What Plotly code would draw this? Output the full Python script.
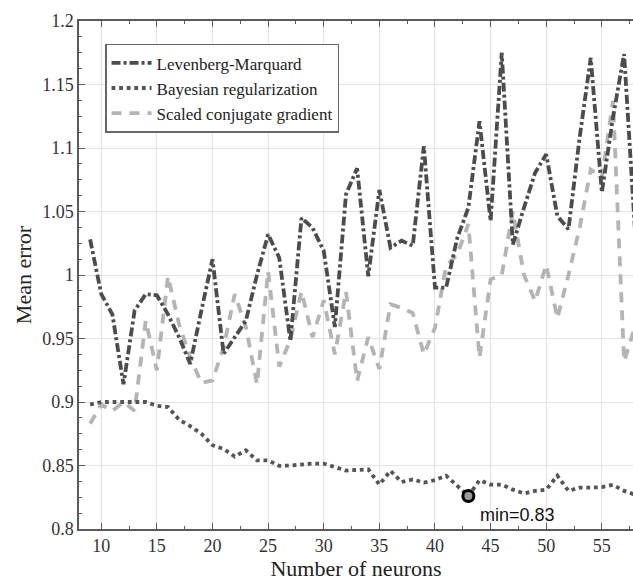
import plotly.graph_objects as go

neurons = list(range(9, 59))

lm = [1.028, 0.985, 0.969, 0.914, 0.972, 0.985, 0.984, 0.969, 0.951, 0.930,
      0.972, 1.0125, 0.938, 0.951, 0.964, 1.000, 1.032, 1.0136, 0.948, 1.045,
      1.037, 1.019, 0.959, 1.0635, 1.084, 0.999, 1.067, 1.0215, 1.027, 1.023,
      1.1015, 0.990, 0.990, 1.029, 1.053, 1.121, 1.0425, 1.175, 1.024, 1.053,
      1.0805, 1.095, 1.0465, 1.036, 1.108, 1.171, 1.065, 1.124, 1.174, 1.032]

br = [0.898, 0.900, 0.900, 0.900, 0.900, 0.900, 0.897, 0.896, 0.886, 0.881,
      0.875, 0.866, 0.863, 0.857, 0.862, 0.854, 0.854, 0.8497, 0.850, 0.851,
      0.8515, 0.8515, 0.8485, 0.846, 0.8465, 0.847, 0.835, 0.8458, 0.837, 0.839,
      0.8366, 0.8384, 0.842, 0.834, 0.826, 0.8384, 0.835, 0.835, 0.831, 0.828,
      0.830, 0.831, 0.842, 0.830, 0.8326, 0.8326, 0.833, 0.8347, 0.830, 0.827]

scg = [0.883, 0.898, 0.893, 0.900, 0.893, 0.964, 0.925, 0.999, 0.961, 0.935,
       0.915, 0.917, 0.943, 0.985, 0.959, 0.914, 1.003, 0.928, 0.949, 0.987,
       0.951, 0.980, 0.9376, 0.987, 0.9166, 0.951, 0.926, 0.977, 0.974, 0.970,
       0.9376, 0.9585, 1.007, 1.016, 1.040, 0.935, 0.9966, 1.000, 1.050, 1.000,
       0.9795, 1.008, 0.966, 1.000, 1.037, 1.083, 1.0766, 1.137, 0.932, 0.960]

min_x = [43]
min_y = [0.826]
min_label = "min=0.83"

xtick_vals = [10, 15, 20, 25, 30, 35, 40, 45, 50, 55]
ytick_vals = [0.8, 0.85, 0.9, 0.95, 1.0, 1.05, 1.1, 1.15, 1.2]
ytick_text = ["0.8", "0.85", "0.9", "0.95", "1", "1.05", "1.1", "1.15", "1.2"]

serif = "Liberation Serif, Times New Roman, serif"

fig = go.Figure()
fig.add_trace(go.Scatter(x=neurons, y=scg, mode="lines", name="Scaled conjugate gradient",
                         line=dict(color="#b4b4b4", width=3.8, dash="10px,8px"), legendrank=3))
fig.add_trace(go.Scatter(x=neurons, y=br, mode="lines", name="Bayesian regularization",
                         line=dict(color="#555555", width=3.8, dash="dot"), legendrank=2))
fig.add_trace(go.Scatter(x=neurons, y=lm, mode="lines", name="Levenberg-Marquard",
                         line=dict(color="#4c4c4c", width=3.8, dash="9px,3px,3px,3px"), legendrank=1))
fig.add_trace(go.Scatter(x=min_x, y=min_y, mode="markers", showlegend=False,
                         marker=dict(size=11, color="#9a9a9a", line=dict(color="black", width=3))))

fig.add_annotation(x=47.4, y=0.811, text=min_label, showarrow=False,
                   font=dict(family="Liberation Sans, Arial, sans-serif", size=18, color="#111111"))

axis_common = dict(showline=True, linecolor="#5a5a5a", linewidth=1.5,
                   showgrid=True, gridcolor="#e3e3e3", gridwidth=1,
                   ticks="inside", ticklen=6, tickcolor="#5a5a5a", tickwidth=1.2,
                   zeroline=False,
                   tickfont=dict(family=serif, size=18, color="#333333"))

fig.update_xaxes(range=[8, 57.8], tickvals=xtick_vals, mirror="allticks",
                 minor=dict(dtick=2.5, tick0=0, ticks="inside", ticklen=3, tickcolor="#5a5a5a", showgrid=False),
                 title=dict(text="Number of neurons", font=dict(family=serif, size=22, color="#222222"), standoff=2),
                 **axis_common)
fig.update_yaxes(range=[0.8, 1.2], tickvals=ytick_vals, ticktext=ytick_text,
                 minor=dict(dtick=0.0125, tick0=0.8, ticks="inside", ticklen=3, tickcolor="#5a5a5a", showgrid=False),
                 title=dict(text="Mean error", font=dict(family=serif, size=22, color="#222222"), standoff=4),
                 **axis_common)

fig.update_layout(
    width=633, height=583,
    margin=dict(l=79, r=0, t=21, b=54),
    paper_bgcolor="white", plot_bgcolor="white",
    showlegend=True,
    legend=dict(x=0.047, y=0.955, xanchor="left", yanchor="top",
                bgcolor="white", bordercolor="#666666", borderwidth=1.5,
                font=dict(family=serif, size=17, color="#222222"),
                tracegroupgap=0, itemwidth=40),
)

fig.write_html("out.html")
